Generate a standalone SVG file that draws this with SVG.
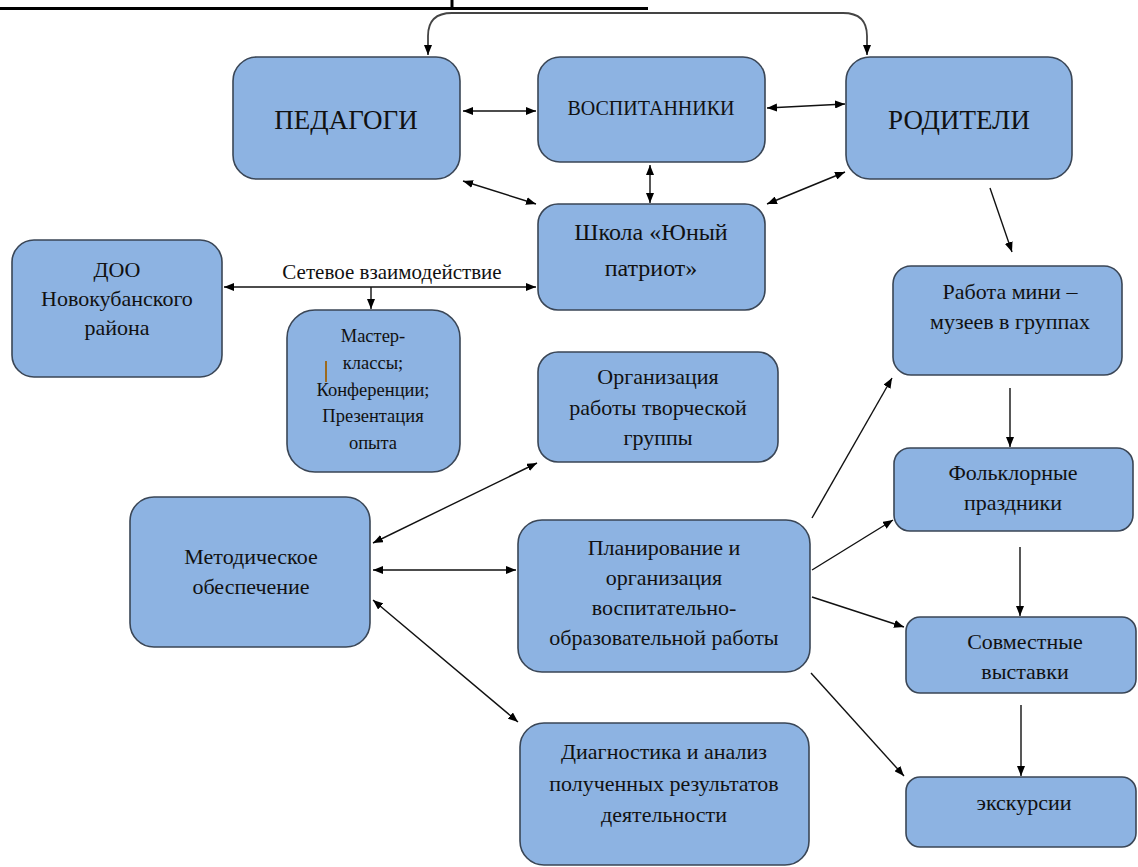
<svg xmlns="http://www.w3.org/2000/svg" width="1138" height="867" viewBox="0 0 1138 867">
<defs>
<marker id="ah" viewBox="0 0 10 8" refX="10" refY="4" markerWidth="10" markerHeight="8" markerUnits="userSpaceOnUse" orient="auto-start-reverse">
<path d="M0,0 L10,4 L0,8 Z" fill="#000"/>
</marker>
</defs>
<rect width="1138" height="867" fill="#fff"/>
<line x1="0" y1="8.5" x2="648" y2="8.5" stroke="#000" stroke-width="3"/>
<line x1="452" y1="0" x2="452" y2="8" stroke="#000" stroke-width="3"/>

<g id="connectors" fill="none" stroke="#111" stroke-width="1.4" marker-end="url(#ah)">
<path marker-start="url(#ah)" d="M428,55 L428,36 Q428,13 452,13 L843,13 Q867,13 867,36 L867,55" stroke="#444" stroke-width="1.8"/>
<line marker-start="url(#ah)" x1="463" y1="111" x2="536" y2="111"/>
<line marker-start="url(#ah)" x1="767" y1="108" x2="845" y2="104"/>
<line marker-start="url(#ah)" x1="463" y1="181" x2="536" y2="204"/>
<line marker-start="url(#ah)" x1="650" y1="165" x2="650" y2="203"/>
<line marker-start="url(#ah)" x1="767" y1="204" x2="845" y2="172"/>
<line x1="990" y1="188" x2="1012" y2="252"/>
<line marker-start="url(#ah)" x1="224" y1="287" x2="536" y2="287"/>
<line x1="371" y1="287" x2="371" y2="309"/>
<line marker-start="url(#ah)" x1="373" y1="543" x2="537" y2="463"/>
<line marker-start="url(#ah)" x1="373" y1="570" x2="516" y2="570"/>
<line marker-start="url(#ah)" x1="373" y1="600" x2="518" y2="722"/>
<line x1="812" y1="518" x2="892" y2="378"/>
<line x1="812" y1="570" x2="893" y2="520"/>
<line x1="812" y1="597" x2="904" y2="627"/>
<line x1="811" y1="673" x2="904" y2="776"/>
<line x1="1010" y1="388" x2="1010" y2="447"/>
<line x1="1020" y1="547" x2="1020" y2="616"/>
<line x1="1021" y1="705" x2="1021" y2="776"/>
</g>

<g fill="#8DB3E2" stroke="#3A4656" stroke-width="1.6">
<g id="pedagogi"><rect x="233" y="57" width="227" height="122" rx="24"/>
<text x="346" y="129" font-size="27" font-family="Liberation Serif" text-anchor="middle" fill="#111" stroke="none">ПЕДАГОГИ</text></g>
<g id="vospitanniki"><rect x="538" y="57" width="227" height="105" rx="22"/>
<text x="651" y="115" font-size="20" font-family="Liberation Serif" text-anchor="middle" fill="#111" stroke="none">ВОСПИТАННИКИ</text></g>
<g id="roditeli"><rect x="846" y="57" width="226" height="122" rx="24"/>
<text x="959" y="129" font-size="27" font-family="Liberation Serif" text-anchor="middle" fill="#111" stroke="none">РОДИТЕЛИ</text></g>
<g id="shkola"><rect x="538" y="204" width="227" height="106" rx="20"/>
<text font-size="24" font-family="Liberation Serif" text-anchor="middle" fill="#111" stroke="none"><tspan x="651" y="240">Школа «Юный</tspan><tspan x="651" y="276">патриот»</tspan></text></g>
<g id="doo"><rect x="12" y="240" width="210" height="137" rx="22"/>
<text font-size="22" font-family="Liberation Serif" text-anchor="middle" fill="#111" stroke="none"><tspan x="117" y="277">ДОО</tspan><tspan x="117" y="306">Новокубанского</tspan><tspan x="117" y="335">района</tspan></text></g>
<g id="master"><rect x="287" y="310" width="173" height="162" rx="28"/>
<text font-size="18.5" font-family="Liberation Serif" text-anchor="middle" fill="#111" stroke="none"><tspan x="373" y="342">Мастер-</tspan><tspan x="373" y="369">классы;</tspan><tspan x="373" y="396">Конференции;</tspan><tspan x="373" y="422">Презентация</tspan><tspan x="373" y="449">опыта</tspan></text>
<line x1="326" y1="361" x2="326" y2="382" stroke="#9C6A1E" stroke-width="2"/></g>
<g id="rabota"><rect x="893" y="266" width="229" height="109" rx="18"/>
<text font-size="22" font-family="Liberation Serif" text-anchor="middle" fill="#111" stroke="none"><tspan x="1010" y="299">Работа мини –</tspan><tspan x="1010" y="329">музеев в группах</tspan></text></g>
<g id="organizaciya"><rect x="538" y="352" width="240" height="110" rx="20"/>
<text font-size="22" font-family="Liberation Serif" text-anchor="middle" fill="#111" stroke="none"><tspan x="658" y="384">Организация</tspan><tspan x="658" y="415">работы творческой</tspan><tspan x="658" y="445">группы</tspan></text></g>
<g id="metod"><rect x="130" y="497" width="240" height="150" rx="24"/>
<text font-size="22" font-family="Liberation Serif" text-anchor="middle" fill="#111" stroke="none"><tspan x="251" y="564">Методическое</tspan><tspan x="251" y="594">обеспечение</tspan></text></g>
<g id="planirovanie"><rect x="518" y="520" width="292" height="152" rx="24"/>
<text font-size="22" font-family="Liberation Serif" text-anchor="middle" fill="#111" stroke="none"><tspan x="664" y="555">Планирование и</tspan><tspan x="664" y="585">организация</tspan><tspan x="664" y="615">воспитательно-</tspan><tspan x="664" y="645">образовательной работы</tspan></text></g>
<g id="folk"><rect x="894" y="448" width="239" height="83" rx="16"/>
<text font-size="22" font-family="Liberation Serif" text-anchor="middle" fill="#111" stroke="none"><tspan x="1013" y="480">Фольклорные</tspan><tspan x="1013" y="510">праздники</tspan></text></g>
<g id="sovm"><rect x="906" y="617" width="230" height="76" rx="14"/>
<text font-size="22" font-family="Liberation Serif" text-anchor="middle" fill="#111" stroke="none"><tspan x="1025" y="649">Совместные</tspan><tspan x="1025" y="679">выставки</tspan></text></g>
<g id="diag"><rect x="520" y="723" width="289" height="142" rx="24"/>
<text font-size="22" font-family="Liberation Serif" text-anchor="middle" fill="#111" stroke="none"><tspan x="664" y="759">Диагностика и анализ</tspan><tspan x="664" y="791">полученных результатов</tspan><tspan x="664" y="822">деятельности</tspan></text></g>
<g id="exc"><rect x="906" y="777" width="230" height="70" rx="14"/>
<text x="1024" y="810" font-size="22" font-family="Liberation Serif" text-anchor="middle" fill="#111" stroke="none">экскурсии</text></g>
</g>
<text x="392" y="279" font-size="21" font-family="Liberation Serif" text-anchor="middle" fill="#111">Сетевое взаимодействие</text>
</svg>
